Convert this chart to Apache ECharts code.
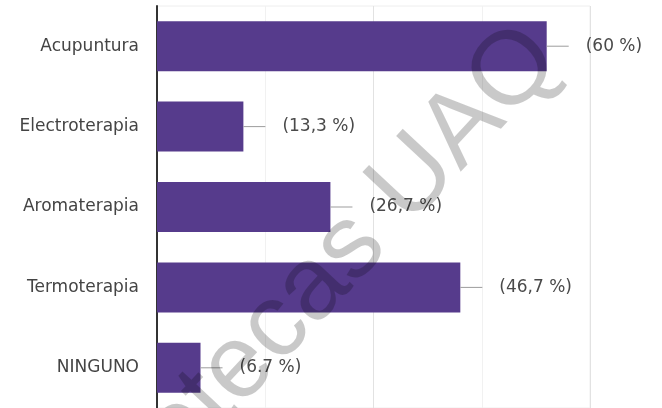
<!DOCTYPE html>
<html>
<head>
<meta charset="utf-8">
<script src="https://cdn.jsdelivr.net/npm/echarts@6/dist/echarts.min.js"></script>
<style>
  html, body { margin: 0; padding: 0; background: #ffffff; }
  #chart { width: 662px; height: 408px; }
</style>
</head>
<body>
<div id="chart"></div>
<script>
// Therapies chosen by respondents (percentage of 15 answers)
const categories = ['Acupuntura', 'Electroterapia', 'Aromaterapia', 'Termoterapia', 'NINGUNO'];
const percentValues = [60, 13.3, 26.7, 46.7, 6.7];
const valueLabels = ['(60 %)', '(13,3 %)', '(26,7 %)', '(46,7 %)', '(6.7 %)'];

// Axis runs to 10 of 15 answers, with a gridline every 2.5 answers
const axisMax = 200 / 3;
const axisStep = 50 / 3;

const chart = echarts.init(document.getElementById('chart'), null, { renderer: 'canvas' });

chart.setOption({
  animation: false,
  backgroundColor: '#ffffff',
  grid: {
    left: 157,
    right: 72,
    top: 6,
    height: 405,
    show: true,
    borderColor: '#eeeeee',
    borderWidth: 1
  },
  xAxis: {
    type: 'value',
    min: 0,
    max: axisMax,
    interval: axisStep,
    axisLine: { show: false },
    axisTick: { show: false },
    axisLabel: { show: false },
    splitLine: {
      lineStyle: { color: ['#e2e2e2', '#f1f1f1'], width: 1 }
    }
  },
  yAxis: {
    type: 'category',
    data: categories,
    inverse: true,
    axisLine: { lineStyle: { color: '#333333', width: 2 } },
    axisTick: { show: false },
    axisLabel: {
      margin: 18,
      color: '#444444',
      fontFamily: 'DejaVu Sans',
      fontSize: 17
    }
  },
  series: [{
    type: 'bar',
    data: percentValues,
    barWidth: 50,
    itemStyle: { color: '#563b8c' },
    label: {
      show: true,
      position: 'right',
      distance: 0,
      formatter: p => '{ln|}{gap|}{v|' + valueLabels[p.dataIndex] + '}',
      rich: {
        ln: { width: 22, height: 1, backgroundColor: '#9c9c9c', verticalAlign: 'middle' },
        gap: { width: 17, height: 1, verticalAlign: 'middle' },
        v: {
          color: '#4a4a4a',
          fontFamily: 'DejaVu Sans',
          fontSize: 17,
          verticalAlign: 'middle'
        }
      }
    }
  }],
  graphic: [{
    type: 'text',
    z: 100,
    x: 580,
    y: 78,
    rotation: 0.82,
    style: {
      text: 'Bibliotecas UAQ',
      font: '104px "Liberation Sans"',
      fill: 'rgba(0,0,0,0.21)',
      textAlign: 'right',
      textVerticalAlign: 'bottom'
    }
  }]
});
</script>
</body>
</html>
